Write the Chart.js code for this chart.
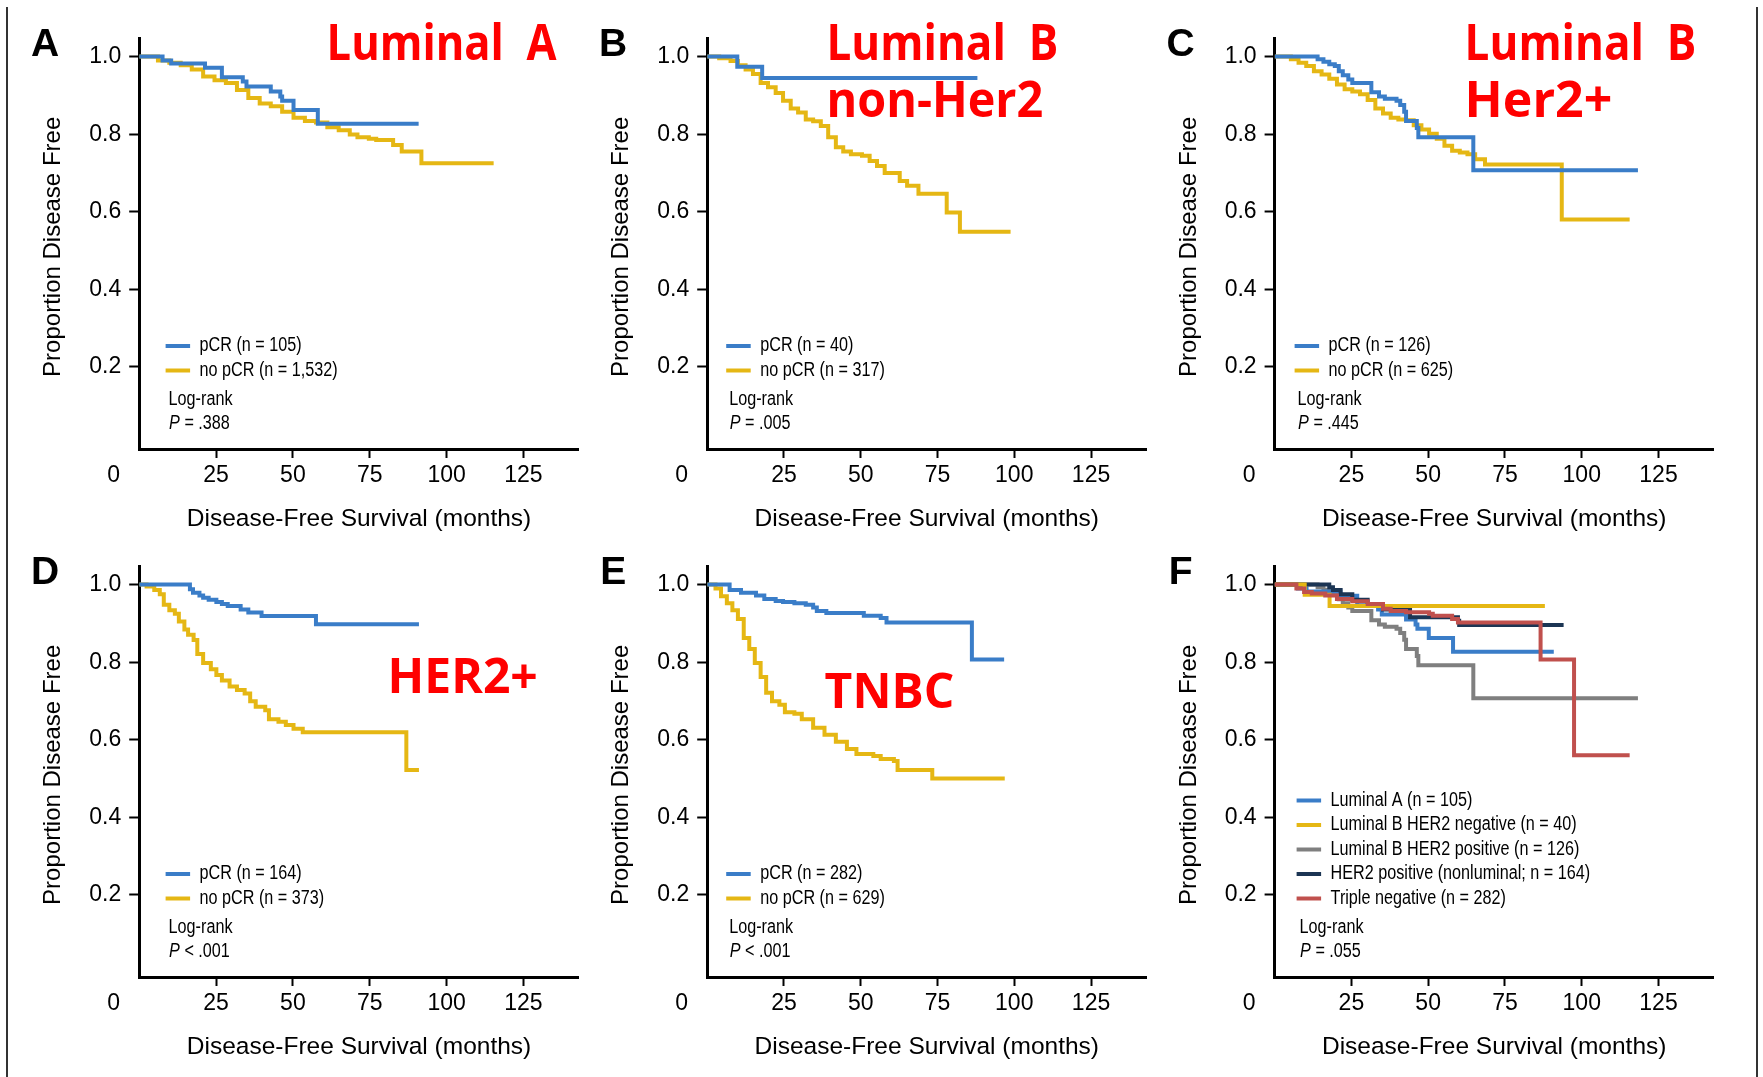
<!DOCTYPE html>
<html>
<head>
<meta charset="utf-8">
<script src="https://cdn.jsdelivr.net/npm/chart.js@4.4.1/dist/chart.umd.min.js"></script>
<style>
html, body { margin: 0; padding: 0; background: #fff; }
#fig { position: relative; width: 1763px; height: 1077px; background: #fff; overflow: hidden; }
#fig canvas { position: absolute; }
.rule { position: absolute; top: 7px; bottom: 0; width: 2px; background: #333; }
</style>
</head>
<body>
<div id="fig">
  <div class="rule" style="left:6px"></div>
  <div class="rule" style="left:1756px"></div>
  <canvas id="cA"></canvas>
  <canvas id="cB"></canvas>
  <canvas id="cC"></canvas>
  <canvas id="cD"></canvas>
  <canvas id="cE"></canvas>
  <canvas id="cF"></canvas>
</div>
<script>
// ---- data: [months, proportion disease free] at each step ----
const lumA_pcr = [[0,1],[7.6,0.99],[10.4,0.982],[21.4,0.971],[26.9,0.947],[33.7,0.936],[34.9,0.923],[42.8,0.91],[45.9,0.897],[46.5,0.886],[50.2,0.862],[58.1,0.827],[90.9,0.827]];
const lumA_nopcr = [[0,1],[6.1,0.99],[9.8,0.984],[13.5,0.978],[17.1,0.967],[20.8,0.949],[24.5,0.939],[28.2,0.932],[31.8,0.914],[35.5,0.893],[39.2,0.879],[42.8,0.872],[46.5,0.858],[50.2,0.842],[53.9,0.834],[57.5,0.83],[61.2,0.818],[64.9,0.81],[68.5,0.799],[71,0.792],[74.7,0.788],[77.1,0.785],[82.6,0.772],[85.4,0.755],[91.8,0.725],[115.3,0.725]];

const lumB_pcr = [[0,1],[9.8,0.974],[17.9,0.945],[88,0.945]];
const lumB_nopcr = [[0,1],[3.9,0.996],[7.6,0.989],[10,0.978],[12.5,0.967],[14.9,0.955],[17.4,0.932],[19.8,0.921],[22.3,0.906],[24.7,0.886],[27.2,0.866],[29.6,0.856],[32.1,0.838],[34.5,0.833],[37,0.821],[39.4,0.792],[41.9,0.766],[44.3,0.755],[46.8,0.748],[50.4,0.744],[52.9,0.731],[55.3,0.718],[57.8,0.7],[62.7,0.679],[65.1,0.667],[68.8,0.646],[78,0.598],[82.3,0.548],[98.8,0.548]];

const lumBH_pcr = [[0,1],[14,0.993],[15.9,0.987],[17.8,0.98],[19.6,0.976],[20.9,0.962],[22.2,0.952],[24,0.941],[25.3,0.932],[31.5,0.908],[34,0.897],[35.9,0.891],[39.7,0.886],[40.9,0.875],[42.2,0.858],[42.8,0.834],[46.3,0.816],[46.8,0.792],[64.7,0.707],[118.3,0.707]];
const lumBH_nopcr = [[0,1],[5.3,0.993],[7.8,0.984],[10.3,0.976],[12.8,0.962],[15.3,0.954],[17.8,0.943],[20.3,0.928],[22.8,0.916],[25.3,0.91],[27.8,0.903],[30.3,0.888],[32.8,0.866],[35.3,0.853],[37.8,0.842],[40.3,0.838],[42.8,0.836],[45.3,0.823],[47.8,0.812],[50.3,0.801],[52.8,0.788],[55.3,0.77],[57.8,0.757],[60.3,0.753],[62.8,0.748],[65.3,0.735],[68.5,0.722],[93.5,0.58],[115.6,0.58]];

const her2_pcr = [[0,1],[16.5,0.988],[17.5,0.979],[19.6,0.972],[20.8,0.966],[22.6,0.961],[25.1,0.955],[26.9,0.95],[28.8,0.945],[33,0.936],[35.5,0.928],[39.8,0.919],[57.5,0.898],[91,0.898]];
const her2_nopcr = [[0,1],[2.4,0.995],[4.9,0.986],[6.7,0.975],[8,0.948],[9.8,0.934],[11.6,0.925],[12.9,0.905],[14.7,0.884],[15.9,0.871],[17.7,0.857],[18.9,0.821],[20.8,0.798],[23.3,0.782],[25.1,0.767],[26.9,0.753],[29.4,0.737],[31.8,0.728],[34.3,0.719],[36.1,0.699],[37.9,0.685],[41,0.676],[42.2,0.653],[45.3,0.646],[47.7,0.638],[50.2,0.628],[53.2,0.619],[86.9,0.522],[91,0.522]];

const tnbc_pcr = [[0,1],[7.3,0.986],[11,0.979],[15.9,0.972],[18.6,0.963],[22.3,0.958],[24.7,0.955],[28.4,0.952],[32.1,0.948],[34.5,0.941],[35.7,0.932],[38.8,0.927],[51,0.92],[56.5,0.914],[58.4,0.902],[86.2,0.807],[96.7,0.807]];
const tnbc_nopcr = [[0,1],[2.7,0.99],[4.5,0.97],[6.4,0.952],[8.2,0.934],[10,0.911],[11.9,0.862],[13.7,0.834],[15.5,0.798],[17.4,0.762],[19.2,0.721],[21.1,0.699],[23.5,0.69],[25.3,0.671],[28.4,0.667],[30.8,0.653],[34.5,0.631],[38.2,0.613],[41.9,0.595],[45.5,0.576],[48.6,0.563],[54.1,0.558],[56.5,0.55],[60.8,0.545],[62,0.522],[73.3,0.5],[96.9,0.5]];

// panel F: pCR curves by subtype
const f_her2 = [[0,1],[17.8,0.993],[19,0.986],[21.5,0.975],[25.3,0.961],[30.3,0.948],[35.3,0.936],[44.1,0.916],[59.7,0.907],[60.1,0.896],[94.1,0.896]];
const f_tn = [[0,1],[7.1,0.99],[9.6,0.981],[12.1,0.977],[16.5,0.972],[20.3,0.963],[25.3,0.957],[30.3,0.95],[35.3,0.938],[37.8,0.932],[42.8,0.929],[50.3,0.925],[51.5,0.92],[57.8,0.911],[59.7,0.902],[86.6,0.807],[97.5,0.56],[115.6,0.56]];

const labelsA = ['pCR (n = 105)', 'no pCR (n = 1,532)'];
const labelsB = ['pCR (n = 40)', 'no pCR (n = 317)'];
const labelsC = ['pCR (n = 126)', 'no pCR (n = 625)'];
const labelsD = ['pCR (n = 164)', 'no pCR (n = 373)'];
const labelsE = ['pCR (n = 282)', 'no pCR (n = 629)'];
const labelsF = ['Luminal A (n = 105)', 'Luminal B HER2 negative (n = 40)', 'Luminal B HER2 positive (n = 126)', 'HER2 positive (nonluminal; n = 164)', 'Triple negative (n = 282)'];
const pValues = ['= .388', '= .005', '= .445', '< .001', '< .001', '= .055'];

const xTicks = [0, 25, 50, 75, 100, 125];
const yTicks = [0.2, 0.4, 0.6, 0.8, 1.0];

const BLUE = '#3a7dc8', GOLD = '#e5b714', GRAY = '#7f7f7f', NAVY = '#1c3554', RED = '#c0504d';
const FONT = '"Liberation Sans", Arial, sans-serif';

function xy(arr) { return arr.map(p => ({ x: p[0], y: p[1] })); }

function narrowText(ctx, text, x, y, italic) {
  ctx.save();
  ctx.translate(x, y);
  ctx.scale(0.83, 1);
  ctx.font = (italic ? 'italic ' : '') + '19.5px ' + FONT;
  ctx.fillStyle = '#000';
  ctx.textAlign = 'left';
  ctx.textBaseline = 'middle';
  ctx.fillText(text, 0, 0);
  const w = ctx.measureText(text).width * 0.83;
  ctx.restore();
  return w;
}

// letters, red subtitles, legend and log-rank text
const panelText = {
  id: 'panelText',
  afterDraw(chart, args, p) {
    const { ctx, chartArea: a } = chart;
    ctx.save();
    ctx.fillStyle = '#000';
    ctx.font = 'bold 39px ' + FONT;
    ctx.textAlign = 'center';
    ctx.textBaseline = 'alphabetic';
    ctx.fillText(p.letter, a.left - 94, a.top + 18);

    ctx.fillStyle = '#ff0000';
    ctx.font = 'bold ' + p.titleSize + 'px "Open Sans", "Noto Sans", sans-serif';
    ctx.textAlign = 'left';
    p.title.forEach((t, i) => {
      ctx.save();
      ctx.translate(a.left + p.titleDx, a.top + p.titleDy + i * 57);
      ctx.scale(p.titleSx[i], 1);
      ctx.fillText(t, 0, 0);
      ctx.restore();
    });

    const ds = chart.data.datasets;
    const n = ds.length;
    const x0 = a.left + p.lgX;
    ds.forEach((d, i) => {
      const y = a.bottom - 78.5 - 24.5 * (n - 1 - i);
      ctx.strokeStyle = d.borderColor;
      ctx.lineWidth = 4;
      ctx.lineCap = 'butt';
      ctx.beginPath();
      ctx.moveTo(x0, y);
      ctx.lineTo(x0 + 24.5, y);
      ctx.stroke();
      narrowText(ctx, d.label, x0 + 34, y);
    });
    narrowText(ctx, 'Log-rank', x0 + 3, a.bottom - 49.5);
    const w = narrowText(ctx, 'P', x0 + 3.5, a.bottom - 25, true);
    narrowText(ctx, ' ' + p.pval, x0 + 3.5 + w, a.bottom - 25);
    ctx.restore();
  }
};

function makePanel(p) {
  const cv = document.getElementById('c' + p.letter);
  cv.width = p.w;
  cv.height = 534;
  cv.style.left = p.left + 'px';
  cv.style.top = p.top + 'px';
  return new Chart(cv, {
    type: 'line',
    data: {
      datasets: p.series.map((s, i) => ({
        label: s.label,
        data: xy(s.data),
        borderColor: s.color,
        backgroundColor: s.color,
        borderWidth: 4,
        stepped: true,
        pointRadius: 0,
        fill: false,
        order: s.order !== undefined ? s.order : i
      }))
    },
    options: {
      responsive: false,
      animation: false,
      events: [],
      layout: { padding: { left: p.axisX - 110, right: p.w - p.endX, top: 38, bottom: 0 } },
      plugins: { legend: { display: false }, tooltip: { enabled: false }, panelText: p },
      scales: {
        x: {
          type: 'linear', min: 0, max: 143,
          afterFit: s => { s.height = 85; },
          afterBuildTicks: s => { s.ticks = xTicks.map(v => ({ value: v })); },
          ticks: {
            autoSkip: false, maxRotation: 0, minRotation: 0, padding: 4, color: '#000',
            font: { family: FONT, size: 23 },
            callback: v => v === 0 ? '0' + ' '.repeat(8) : String(v)
          },
          grid: {
            drawOnChartArea: false, tickLength: 9, tickWidth: 2,
            tickColor: c => (c.tick && c.tick.value === 0) ? 'rgba(0,0,0,0)' : '#000'
          },
          border: { color: '#000', width: 3 },
          title: { display: true, text: 'Disease-Free Survival (months)', color: '#000', font: { family: FONT, size: 24.5 }, padding: 0 }
        },
        y: {
          min: -0.012, max: 1.048,
          afterFit: s => { s.width = 110; },
          afterBuildTicks: s => { s.ticks = yTicks.map(v => ({ value: v })); },
          ticks: { padding: 8, color: '#000', font: { family: FONT, size: 23 }, callback: v => v.toFixed(1) },
          grid: { drawOnChartArea: false, tickLength: 10, tickWidth: 2, tickColor: '#000' },
          border: { color: '#000', width: 3 },
          title: { display: true, text: 'Proportion Disease Free ', color: '#000', font: { family: FONT, size: 24 }, padding: { top: 10, bottom: 0 } }
        }
      }
    },
    plugins: [panelText]
  });
}

const cols = [
  { left: 0, w: 590, axisX: 139.2, endX: 578.8, lgX: 26.4 },
  { left: 590, w: 570, axisX: 117.2, endX: 556.3, lgX: 19 },
  { left: 1160, w: 603, axisX: 114.6, endX: 553.8, lgX: 20 }
];

function pair(a, b, la) {
  return [{ label: la[0], data: a, color: BLUE }, { label: la[1], data: b, color: GOLD }];
}

const panels = [
  { letter: 'A', col: 0, top: 0, series: pair(lumA_pcr, lumA_nopcr, labelsA), pval: pValues[0], title: ['Luminal  A'], titleSx: [0.87], titleDx: 187.4, titleDy: 22, titleSize: 50 },
  { letter: 'B', col: 1, top: 0, series: pair(lumB_pcr, lumB_nopcr, labelsB), pval: pValues[1], title: ['Luminal  B', 'non-Her2'], titleSx: [0.88, 0.935], titleDx: 119.3, titleDy: 21.5, titleSize: 50 },
  { letter: 'C', col: 2, top: 0, series: pair(lumBH_pcr, lumBH_nopcr, labelsC), pval: pValues[2], title: ['Luminal  B', 'Her2+'], titleSx: [0.88, 1], titleDx: 190, titleDy: 21.5, titleSize: 50 },
  { letter: 'D', col: 0, top: 528, series: pair(her2_pcr, her2_nopcr, labelsD), pval: pValues[3], title: ['HER2+'], titleSx: [1], titleDx: 248.4, titleDy: 127.4, titleSize: 48 },
  { letter: 'E', col: 1, top: 528, series: pair(tnbc_pcr, tnbc_nopcr, labelsE), pval: pValues[4], title: ['TNBC'], titleSx: [1], titleDx: 117.4, titleDy: 142.1, titleSize: 48 },
  { letter: 'F', col: 2, top: 528, series: [
      { label: labelsF[0], data: lumA_pcr, color: BLUE, order: 3 },
      { label: labelsF[1], data: lumB_pcr, color: GOLD, order: 1 },
      { label: labelsF[2], data: lumBH_pcr, color: GRAY, order: 4 },
      { label: labelsF[3], data: f_her2, color: NAVY, order: 2 },
      { label: labelsF[4], data: f_tn, color: RED, order: 0 }
    ], pval: pValues[5], title: [], titleSx: [], titleDx: 0, titleDy: 0, titleSize: 48 }
];

panels.forEach(p => {
  const c = cols[p.col];
  makePanel(Object.assign({}, p, { left: c.left, w: c.w, axisX: c.axisX, endX: c.endX, lgX: p.letter === 'F' ? 22 : c.lgX }));
});
</script>
</body>
</html>
